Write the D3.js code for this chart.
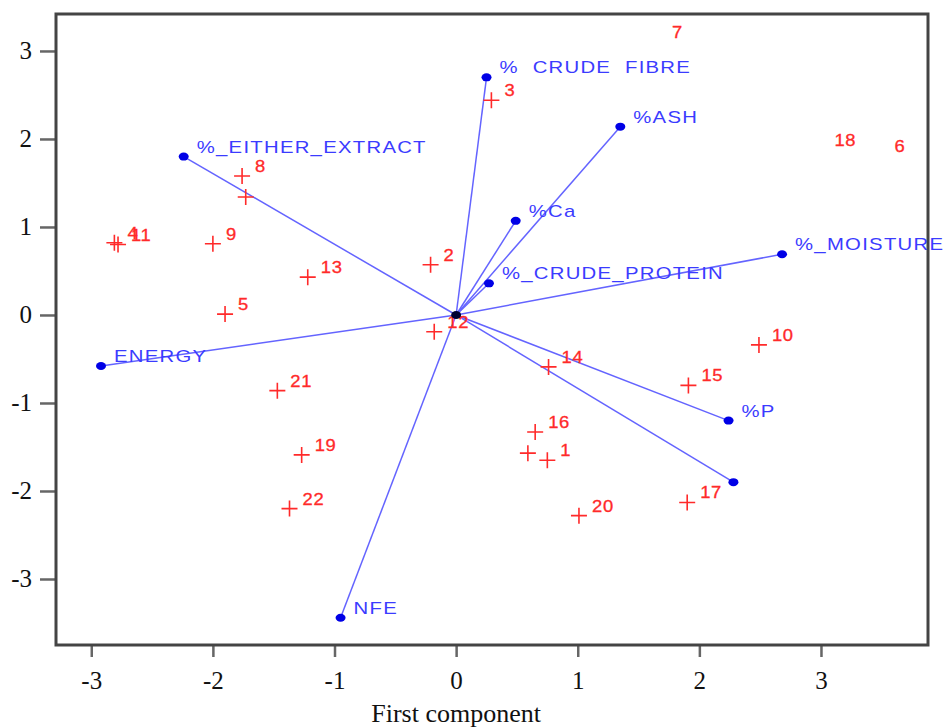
<!DOCTYPE html>
<html>
<head>
<meta charset="utf-8">
<script src="https://cdn.jsdelivr.net/npm/d3@7"></script>
<style>
  body { margin: 0; background: #fff; }
  svg { display: block; }
</style>
</head>
<body>
<svg id="chart" width="943" height="727"></svg>
<script>
// loading vectors (variables)
var varNames = ["%  CRUDE  FIBRE", "%ASH", "%_EITHER_EXTRACT", "%Ca", "%_CRUDE_PROTEIN",
                "%_MOISTURE", "ENERGY", "%P", "", "NFE"];
var varX = [0.25, 1.35, -2.24, 0.49, 0.27, 2.68, -2.92, 2.24, 2.28, -0.95];
var varY = [2.70, 2.14, 1.80, 1.07, 0.36, 0.69, -0.58, -1.20, -1.90, -3.44];

// sample scores
var ptLabels = ["3", "8", "", "4", "11", "9", "13", "5", "2", "12", "14", "15", "10",
                "21", "19", "22", "16", "", "1", "20", "17"];
var ptX = [0.29, -1.76, -1.73, -2.81, -2.78, -2.00, -1.22, -1.90, -0.21, -0.18, 0.76, 1.91, 2.49,
           -1.47, -1.27, -1.37, 0.65, 0.59, 0.75, 1.01, 1.90];
var ptY = [2.44, 1.58, 1.34, 0.82, 0.80, 0.81, 0.43, 0.01, 0.57, -0.19, -0.59, -0.80, -0.34,
           -0.86, -1.59, -2.20, -1.33, -1.57, -1.65, -2.28, -2.13];

// samples shown with label only (no marker)
var onlyLabels = ["7", "18", "6"];
var onlyX = [1.82, 3.20, 3.65];
var onlyY = [3.22, 1.99, 1.92];

var xTicks = [-3, -2, -1, 0, 1, 2, 3];
var yTicks = [-3, -2, -1, 0, 1, 2, 3];

var svg = d3.select("#chart");
var pLeft = 56, pRight = 928, pTop = 14, pBottom = 645;

var x = d3.scaleLinear().domain([-3.29, 3.88]).range([pLeft, pRight]);
var y = d3.scaleLinear().domain([-3.75, 3.42]).range([pBottom, pTop]);

var blueLine = "#6464ff", blueDot = "#0000e6", blueText = "#3b3bff", red = "#ff2a2a";

// axes
var yAxis = svg.append("g")
    .attr("transform", "translate(" + (pLeft - 1) + ",0)")
    .call(d3.axisLeft(y).tickValues(yTicks).tickSize(15).tickPadding(8).tickFormat(d3.format("d")));
var xAxis = svg.append("g")
    .attr("transform", "translate(0," + (pBottom + 1) + ")")
    .call(d3.axisBottom(x).tickValues(xTicks).tickSize(11).tickPadding(14).tickFormat(d3.format("d")));

[xAxis, yAxis].forEach(function(g) {
    g.select(".domain").remove();
    g.selectAll(".tick line").attr("stroke", "#666").attr("stroke-width", 2.5);
    g.selectAll(".tick text")
        .attr("fill", "#111")
        .style("font-family", "'Liberation Serif', 'Times New Roman', serif")
        .style("font-size", "25px");
});
// use plain hyphen like the original
svg.selectAll(".tick text").text(function(d) { return d < 0 ? "-" + Math.abs(d) : d; });

// frame
svg.append("rect")
    .attr("x", pLeft).attr("y", pTop)
    .attr("width", pRight - pLeft).attr("height", pBottom - pTop)
    .attr("fill", "none").attr("stroke", "#444").attr("stroke-width", 3);

svg.append("text")
    .attr("x", x(0)).attr("y", 722)
    .attr("text-anchor", "middle")
    .style("font-family", "'Liberation Serif', 'Times New Roman', serif")
    .style("font-size", "26px")
    .attr("fill", "#111")
    .text("First component");

var plot = svg.append("g");

// vectors
var vars = varNames.map(function(n, i) { return {name: n, x: varX[i], y: varY[i]}; });

plot.selectAll("line.vec")
    .data(vars)
    .enter()
    .append("line")
    .attr("class", "vec")
    .attr("x1", x(0)).attr("y1", y(0))
    .attr("x2", function(d) { return x(d.x); })
    .attr("y2", function(d) { return y(d.y); })
    .attr("stroke", blueLine)
    .attr("stroke-width", 1.5);

// sample markers
var pts = ptLabels.map(function(l, i) { return {label: l, x: ptX[i], y: ptY[i]}; });

var pg = plot.selectAll("g.pt")
    .data(pts)
    .enter()
    .append("g")
    .attr("class", "pt")
    .attr("transform", function(d) { return "translate(" + x(d.x) + "," + y(d.y) + ")"; });
pg.append("path")
    .attr("d", "M-8,0H8M0,-8V8")
    .attr("stroke", red)
    .attr("stroke-width", 1.6);
pg.append("text")
    .attr("transform", "translate(13,-4) scale(1.15,1)")
    .attr("fill", red)
    .style("font-family", "Arial, 'Liberation Sans', sans-serif")
    .style("font-size", "16px")
    .style("letter-spacing", "0.6px")
    .attr("stroke", red).attr("stroke-width", 0.3)
    .text(function(d) { return d.label; });

plot.selectAll("text.only")
    .data(onlyLabels.map(function(l, i) { return {label: l, x: onlyX[i], y: onlyY[i]}; }))
    .enter()
    .append("text")
    .attr("class", "only")
    .attr("transform", function(d) {
        return "translate(" + x(d.x) + "," + (y(d.y) + 6) + ") scale(1.15,1)";
    })
    .attr("text-anchor", "middle")
    .attr("fill", red)
    .style("font-family", "Arial, 'Liberation Sans', sans-serif")
    .style("font-size", "16px")
    .style("letter-spacing", "0.6px")
    .attr("stroke", red).attr("stroke-width", 0.3)
    .text(function(d) { return d.label; });

// vector end dots and labels
plot.selectAll("ellipse.end")
    .data(vars)
    .enter()
    .append("ellipse")
    .attr("class", "end")
    .attr("cx", function(d) { return x(d.x); })
    .attr("cy", function(d) { return y(d.y); })
    .attr("rx", 5).attr("ry", 4)
    .attr("fill", blueDot);

plot.selectAll("text.vlab")
    .data(vars)
    .enter()
    .append("text")
    .attr("class", "vlab")
    .attr("transform", function(d) {
        return "translate(" + (x(d.x) + 13) + "," + (y(d.y) - 4) + ") scale(1.27,1)";
    })
    .attr("fill", blueText)
    .style("font-family", "Arial, 'Liberation Sans', sans-serif")
    .style("font-size", "16px")
    .style("letter-spacing", "1px")
    .style("white-space", "pre")
    .text(function(d) { return d.name; });

// origin
plot.append("ellipse")
    .attr("cx", x(0)).attr("cy", y(0))
    .attr("rx", 5).attr("ry", 4)
    .attr("fill", "#000033");
</script>
</body>
</html>
